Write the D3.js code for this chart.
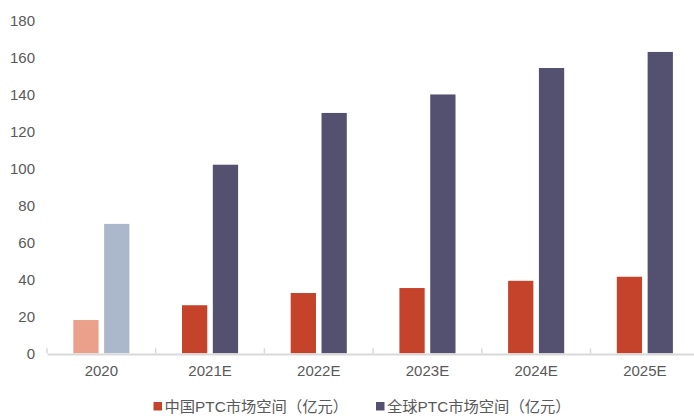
<!DOCTYPE html>
<html><head><meta charset="utf-8">
<script src="https://cdn.jsdelivr.net/npm/d3@7"></script>
<style>body{margin:0;background:#fff;}svg{display:block;}</style>
</head><body>
<svg id="c" width="694" height="416"></svg>
<script>
const categories = ["2020","2021E","2022E","2023E","2024E","2025E"];
const chinaValues = [18, 26, 32.6, 35.3, 39.2, 41.4];
const globalValues = [70, 102, 130, 140, 154.3, 163];
const yTicks = [0,20,40,60,80,100,120,140,160,180];
const seriesNames = ["中国PTC市场空间（亿元）","全球PTC市场空间（亿元）"];

const svg = d3.select("#c");
const font = "'Liberation Sans', Arial, 'Noto Sans CJK SC', sans-serif";
const x0 = 47, x1 = 47 + 108.7*6, yBase = 353.3, yTop = 20.5;
const x = d3.scaleBand().domain(categories).range([x0, x1]).paddingInner(0).paddingOuter(0);
const y = d3.scaleLinear().domain([0,180]).range([yBase, yTop]);
const inner = d3.scaleBand().domain(["china","global"]).range([26.3, x.bandwidth()-26.3]).paddingInner(0.18);

// y labels
const ya = svg.append("g").attr("transform","translate(35,0)")
  .call(d3.axisLeft(y).tickValues(yTicks).tickSize(0).tickPadding(0));
ya.select(".domain").remove();
ya.selectAll("text").attr("font-family",font).attr("font-size","15px").attr("fill","#595959");

// bars
const g = svg.append("g");
categories.forEach((c,i)=>{
  g.append("rect").attr("x", x(c)+inner("china")).attr("width", inner.bandwidth())
   .attr("y", y(chinaValues[i])).attr("height", y(0)-y(chinaValues[i]))
   .attr("fill", i===0 ? "#EBA08C" : "#C5432A");
  g.append("rect").attr("x", x(c)+inner("global")).attr("width", inner.bandwidth())
   .attr("y", y(globalValues[i])).attr("height", y(0)-y(globalValues[i]))
   .attr("fill", i===0 ? "#ABB7CA" : "#545170");
});

// x axis
const xa = svg.append("g").attr("transform",`translate(0,${yBase+0.7})`)
  .call(d3.axisBottom(x).tickSize(0).tickPadding(11));
xa.select(".domain").attr("stroke","#D9D9D9").attr("stroke-width",2);
xa.selectAll("text").attr("font-family",font).attr("font-size","15px").attr("fill","#595959");
// boundary ticks (pointing up)
const bounds = categories.map(c=>x(c));
svg.append("g").selectAll("line").data(bounds).join("line")
  .attr("x1",d=>d).attr("x2",d=>d).attr("y1",yBase-5).attr("y2",yBase)
  .attr("stroke","#D9D9D9").attr("stroke-width",1.5);

// legend
const legendColors = ["#C5432A","#545170"];
const legendX = [153.5, 376];
seriesNames.forEach((n,i)=>{
  svg.append("rect").attr("x",legendX[i]).attr("y",402).attr("width",8.5).attr("height",8.5).attr("fill",legendColors[i]);
  svg.append("text").attr("x",legendX[i]+11).attr("y",411.5).text(n)
    .attr("font-family",font).attr("font-size","15.3px").attr("fill","#595959");
});
</script>
</body></html>
